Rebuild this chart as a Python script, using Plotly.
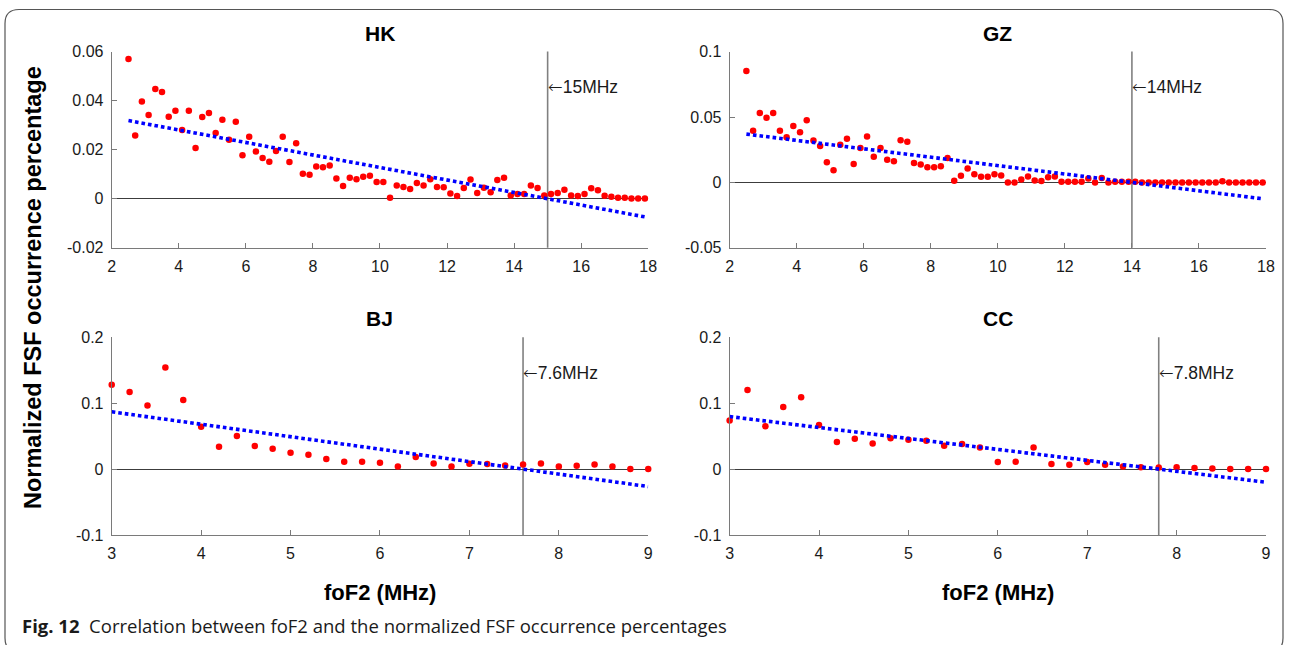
import plotly.graph_objects as go

# ---- data: normalized FSF occurrence vs foF2 (MHz) ----
hk_x = [2.5, 2.7, 2.9, 3.1, 3.3, 3.5, 3.7, 3.9, 4.1, 4.3, 4.5, 4.7, 4.9, 5.1, 5.3, 5.5,
        5.7, 5.9, 6.1, 6.3, 6.5, 6.7, 6.9, 7.1, 7.3, 7.5, 7.7, 7.9, 8.1, 8.3, 8.5, 8.7,
        8.9, 9.1, 9.3, 9.5, 9.7, 9.9, 10.1, 10.3, 10.5, 10.7, 10.9, 11.1, 11.3, 11.5,
        11.7, 11.9, 12.1, 12.3, 12.5, 12.7, 12.9, 13.1, 13.3, 13.5, 13.7, 13.9, 14.1,
        14.3, 14.5, 14.7, 14.9, 15.1, 15.3, 15.5, 15.7, 15.9, 16.1, 16.3, 16.5, 16.7,
        16.9, 17.1, 17.3, 17.5, 17.7, 17.9]
hk_y = [0.0570, 0.0258, 0.0397, 0.0341, 0.0447, 0.0435, 0.0334, 0.0359, 0.0280, 0.0359,
        0.0207, 0.0333, 0.0350, 0.0268, 0.0322, 0.0241, 0.0314, 0.0177, 0.0253, 0.0193,
        0.0166, 0.0151, 0.0195, 0.0253, 0.0150, 0.0226, 0.0102, 0.0098, 0.0132, 0.0128,
        0.0136, 0.0083, 0.0052, 0.0086, 0.0080, 0.0090, 0.0094, 0.0068, 0.0068, 0.0004,
        0.0054, 0.0048, 0.0040, 0.0064, 0.0054, 0.0080, 0.0048, 0.0047, 0.0021, 0.0011,
        0.0044, 0.0079, 0.0023, 0.0045, 0.0027, 0.0076, 0.0086, 0.0013, 0.0019, 0.0019,
        0.0054, 0.0044, 0.0013, 0.0019, 0.0023, 0.0037, 0.0013, 0.0011, 0.0019, 0.0043,
        0.0035, 0.0012, 0.0008, 0.0004, 0.0004, 0.0001, 0.0001, 0.0001]

gz_x = list(hk_x)
gz_y = [0.0851, 0.0394, 0.0530, 0.0495, 0.0530, 0.0394, 0.0346, 0.0432, 0.0384, 0.0475,
        0.0321, 0.0278, 0.0154, 0.0093, 0.0288, 0.0333, 0.0141, 0.0263, 0.0351, 0.0197,
        0.0263, 0.0174, 0.0162, 0.0323, 0.0311, 0.0149, 0.0136, 0.0116, 0.0116, 0.0124,
        0.0187, 0.0013, 0.0051, 0.0106, 0.0063, 0.0043, 0.0043, 0.0063, 0.0053, 0.0000,
        0.0000, 0.0023, 0.0045, 0.0015, 0.0010, 0.0040, 0.0045, 0.0005, 0.0005, 0.0005,
        0.0005, 0.0030, 0.0000, 0.0033, 0.0000, 0.0005, 0.0005, 0.0005, 0.0005, 0.0000,
        0.0000, 0.0000, 0.0000, 0.0000, 0.0000, 0.0000, 0.0000, 0.0000, 0.0000, 0.0000,
        0.0000, 0.0008, 0.0000, 0.0000, 0.0000, 0.0000, 0.0000, 0.0000]

bj_x = [3.0, 3.2, 3.4, 3.6, 3.8, 4.0, 4.2, 4.4, 4.6, 4.8, 5.0, 5.2, 5.4, 5.6, 5.8, 6.0,
        6.2, 6.4, 6.6, 6.8, 7.0, 7.2, 7.4, 7.6, 7.8, 8.0, 8.2, 8.4, 8.6, 8.8, 9.0]
bj_y = [0.128, 0.117, 0.0966, 0.154, 0.105, 0.0642, 0.0339, 0.0501, 0.0349, 0.0309,
        0.0248, 0.0218, 0.0152, 0.0111, 0.0111, 0.0096, 0.0040, 0.0182, 0.0086, 0.0040,
        0.0081, 0.0076, 0.0056, 0.0071, 0.0086, 0.0040, 0.0051, 0.0071, 0.0040, 0.0, 0.0]

cc_x = list(bj_x)
cc_y = [0.0738, 0.120, 0.0652, 0.0941, 0.109, 0.0668, 0.0410, 0.0460, 0.0389, 0.0470,
        0.0445, 0.0430, 0.0354, 0.0379, 0.0329, 0.0106, 0.0111, 0.0329, 0.0076, 0.0066,
        0.0106, 0.0066, 0.0040, 0.0030, 0.0025, 0.0030, 0.0015, 0.0010, 0.0, 0.0, 0.0]

# linear trend: slope and zero-crossing frequency (MHz) per station
stations = ["HK", "GZ", "BJ", "CC"]
fit_slope = [-0.00255, -0.00321, -0.0189, -0.0166]
cross_mhz = [15.0, 14.0, 7.6, 7.8]
cross_labels = ["15MHz", "14MHz", "7.6MHz", "7.8MHz"]

# axis ticks
top_xticks = [2, 4, 6, 8, 10, 12, 14, 16, 18]
bot_xticks = [3, 4, 5, 6, 7, 8, 9]
hk_yticks = [-0.02, 0, 0.02, 0.04, 0.06]
hk_ylabels = ["-0.02", "0", "0.02", "0.04", "0.06"]
gz_yticks = [-0.05, 0, 0.05, 0.1]
gz_ylabels = ["-0.05", "0", "0.05", "0.1"]
bot_yticks = [-0.1, 0, 0.1, 0.2]
bot_ylabels = ["-0.1", "0", "0.1", "0.2"]

# ---- figure ----
W, H = 1290, 645
col_dom = [[0.0866, 0.5025], [0.5656, 0.9814]]
row_dom = [[0.6158, 0.9200], [0.1705, 0.4771]]

panels = [
    dict(x=hk_x, y=hk_y, xr=[2, 18], yr=[-0.02, 0.06], xt=top_xticks, yt=hk_yticks, yl=hk_ylabels, c=0, r=0),
    dict(x=gz_x, y=gz_y, xr=[2, 18], yr=[-0.05, 0.1], xt=top_xticks, yt=gz_yticks, yl=gz_ylabels, c=1, r=0),
    dict(x=bj_x, y=bj_y, xr=[3, 9], yr=[-0.1, 0.2], xt=bot_xticks, yt=bot_yticks, yl=bot_ylabels, c=0, r=1),
    dict(x=cc_x, y=cc_y, xr=[3, 9], yr=[-0.1, 0.2], xt=bot_xticks, yt=bot_yticks, yl=bot_ylabels, c=1, r=1),
]

SANS = "Arial, Liberation Sans, sans-serif"
AXIS_GREY = "#7a7a7a"
TICK_FONT = dict(family=SANS, size=16, color="#1a1a1a")

fig = go.Figure()
layout = dict(
    width=W, height=H,
    margin=dict(l=0, r=0, t=0, b=0),
    paper_bgcolor="white", plot_bgcolor="white",
    showlegend=False,
    annotations=[], shapes=[],
)

for i, p in enumerate(panels):
    n = "" if i == 0 else str(i + 1)
    xa, ya = "x" + n, "y" + n
    fig.add_trace(go.Scatter(
        x=p["x"], y=p["y"], mode="markers", xaxis=xa, yaxis=ya, cliponaxis=False,
        marker=dict(color="#ff0000", size=6.5, line=dict(width=0)),
    ))
    trend = [fit_slope[i] * (v - cross_mhz[i]) for v in p["x"]]
    fig.add_trace(go.Scatter(
        x=p["x"], y=trend, mode="lines", xaxis=xa, yaxis=ya,
        line=dict(color="#0000ff", width=3.6, dash="3.6px,3px"),
    ))
    layout["xaxis" + n] = dict(
        domain=col_dom[p["c"]], anchor=ya, range=p["xr"], tickvals=p["xt"],
        ticktext=[str(t) for t in p["xt"]], showline=True, linecolor=AXIS_GREY,
        linewidth=1, ticks="inside", ticklen=5, tickcolor=AXIS_GREY,
        showgrid=False, zeroline=False, tickfont=TICK_FONT, ticklabelstandoff=4,
        automargin=False, fixedrange=True,
    )
    layout["yaxis" + n] = dict(
        domain=row_dom[p["r"]], anchor=xa, range=p["yr"], tickvals=p["yt"],
        ticktext=p["yl"], showline=True, linecolor=AXIS_GREY, linewidth=1,
        ticks="inside", ticklen=5, tickcolor=AXIS_GREY, showgrid=False,
        zeroline=True, zerolinecolor="#3c3c3c", zerolinewidth=1,
        tickfont=TICK_FONT, ticklabelstandoff=4, automargin=False, fixedrange=True,
    )
    # vertical marker at the zero-crossing frequency
    layout["shapes"].append(dict(
        type="line", xref=xa, yref=ya + " domain", x0=cross_mhz[i], x1=cross_mhz[i],
        y0=0, y1=1, line=dict(color="#808080", width=1.6), layer="below",
    ))
    layout["annotations"].append(dict(
        x=cross_mhz[i], xref=xa, y=0.82, yref=ya + " domain", xanchor="left",
        yanchor="middle", showarrow=False,
        text='<span style="font-family:DejaVu Sans;font-weight:200">\u2190</span>' + cross_labels[i],
        font=dict(family=SANS, size=17.5, color="#1a1a1a"),
        xshift=-2,
    ))
    # station title
    cd = col_dom[p["c"]]
    layout["annotations"].append(dict(
        x=(cd[0] + cd[1]) / 2, xref="paper", y=row_dom[p["r"]][1], yref="paper",
        yanchor="bottom", xanchor="center", yshift=5, showarrow=False,
        text="<b>%s</b>" % stations[i],
        font=dict(family=SANS, size=21, color="#000"),
    ))

# shared axis titles
for cd in col_dom:
    layout["annotations"].append(dict(
        x=(cd[0] + cd[1]) / 2, xref="paper", y=1 - 592 / H, yref="paper",
        xanchor="center", yanchor="middle", showarrow=False, text="<b>foF2 (MHz)</b>",
        font=dict(family=SANS, size=22, color="#000"),
    ))
layout["annotations"].append(dict(
    x=33 / W, xref="paper", y=1 - 288 / H, yref="paper", xanchor="center",
    yanchor="middle", showarrow=False, textangle=-90,
    text="<b>Normalized FSF occurrence percentage</b>",
    font=dict(family=SANS, size=23.5, color="#000"),
))

# caption
layout["annotations"].append(dict(
    x=20 / W, xref="paper", y=1 - 625 / H, yref="paper", xanchor="left",
    yanchor="middle", showarrow=False,
    text="<b>Fig. 12</b>  Correlation between foF2 and the normalized FSF occurrence percentages",
    font=dict(family="Open Sans, Noto Sans, sans-serif", size=18.5, color="#1a1a1a"),
))

# rounded frame around the figure
def px(xp):
    return xp / W

def py(yp):
    return 1 - yp / H

x0, x1, y0, y1, rad = 5, 1283, 9.5, 652, 14
frame = (
    f"M {px(x0 + rad)},{py(y0)} L {px(x1 - rad)},{py(y0)} "
    f"Q {px(x1)},{py(y0)} {px(x1)},{py(y0 + rad)} "
    f"L {px(x1)},{py(y1 - rad)} Q {px(x1)},{py(y1)} {px(x1 - rad)},{py(y1)} "
    f"L {px(x0 + rad)},{py(y1)} Q {px(x0)},{py(y1)} {px(x0)},{py(y1 - rad)} "
    f"L {px(x0)},{py(y0 + rad)} Q {px(x0)},{py(y0)} {px(x0 + rad)},{py(y0)} Z"
)
layout["shapes"].append(dict(
    type="path", xref="paper", yref="paper", path=frame,
    line=dict(color="#555555", width=1.2), layer="below",
))

fig.update_layout(**layout)
fig.write_html("out.html")
